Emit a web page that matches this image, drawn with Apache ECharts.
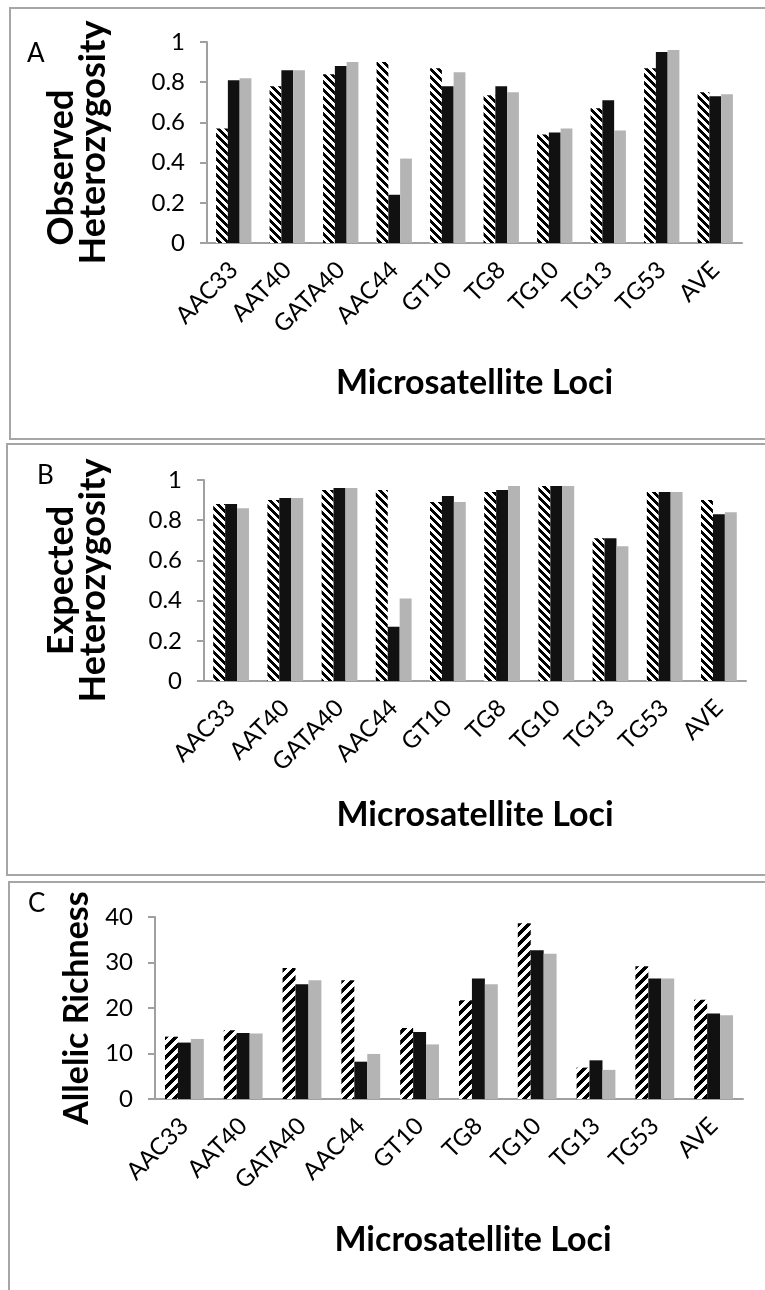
<!DOCTYPE html>
<html><head><meta charset="utf-8">
<script src="https://cdn.jsdelivr.net/npm/echarts@6/dist/echarts.min.js"></script>
<style>html,body{margin:0;padding:0;background:#fff}#c{width:765px;height:1290px}</style>
</head><body><div id="c"></div>
<script>
const categories = ['AAC33','AAT40','GATA40','AAC44','GT10','TG8','TG10','TG13','TG53','AVE'];
const obsHatched = [0.57,0.78,0.84,0.90,0.87,0.735,0.54,0.67,0.87,0.75];
const obsBlack   = [0.81,0.86,0.88,0.24,0.78,0.78,0.55,0.71,0.95,0.73];
const obsGray    = [0.82,0.86,0.90,0.42,0.85,0.75,0.57,0.56,0.96,0.74];
const expHatched = [0.88,0.90,0.95,0.95,0.89,0.94,0.97,0.71,0.94,0.90];
const expBlack   = [0.88,0.91,0.96,0.27,0.92,0.95,0.97,0.71,0.94,0.83];
const expGray    = [0.86,0.91,0.96,0.41,0.89,0.97,0.97,0.67,0.94,0.84];
const arHatched  = [13.7,15.1,28.8,26.1,15.6,21.7,38.6,6.9,29.2,21.8];
const arBlack    = [12.4,14.5,25.2,8.2,14.7,26.5,32.7,8.5,26.5,18.8];
const arGray     = [13.2,14.4,26.1,9.9,12.0,25.2,31.9,6.4,26.5,18.4];
const panelLabels = ['A','B','C'];
const yTitles = ['{s|Observed}\n{t|Heterozygosity}','{t|Expected}\n{t|Heterozygosity}','{t|Allelic Richness}'];
const xTitle = 'Microsatellite Loci';

function hatch(size, dir){
  const c = document.createElement('canvas'); c.width = size; c.height = size;
  const ctx = c.getContext('2d'); const img = ctx.createImageData(size, size);
  for (let y = 0; y < size; y++) for (let x = 0; x < size; x++) {
    const k = dir > 0 ? (x + y) % size : ((x - y) % size + size) % size;
    const v = k < size / 2 ? 0 : 255; const i = (y * size + x) * 4;
    img.data[i] = v; img.data[i+1] = v; img.data[i+2] = v; img.data[i+3] = 255;
  }
  ctx.putImageData(img, 0, 0);
  return { image: c, repeat: 'repeat' };
}
const hatchBack = hatch(8, -1), hatchFwd = hatch(10, 1);
const FONT = 'Lato';
const axisCol = '#a0a0a0';
const grids = [
  {left:207, top:42, width:535, height:201},
  {left:204, top:480, width:542, height:201},
  {left:155, top:917, width:588, height:182}
];
const yCfg = [
  {max:1, interval:0.2, gap:98, fs:36},
  {max:1, interval:0.2, gap:95, fs:36},
  {max:40, interval:10, gap:60, fs:34}
];
const xGaps = [123, 117, 124];
const xTitlePad = [0, 0, 48];
const data = [[obsHatched,obsBlack,obsGray],[expHatched,expBlack,expGray],[arHatched,arBlack,arGray]];
const pats = [hatchBack, hatchBack, hatchFwd];

const xAxis = [], yAxis = [], series = [];
grids.forEach((g, i) => {
  const fs = yCfg[i].fs;
  const base = {fontSize:fs, fontWeight:'bold', color:'#000', fontFamily:FONT, lineHeight:32};
  xAxis.push({type:'category', gridIndex:i, data:categories,
    axisLine:{lineStyle:{color:axisCol, width:2}}, axisTick:{show:false},
    axisLabel:{rotate:45, fontSize:24, color:'#000', fontFamily:FONT, margin:23, interval:0},
    name:xTitle, nameLocation:'middle', nameGap:xGaps[i],
    nameTextStyle:{fontSize:34, fontWeight:'bold', color:'#000', fontFamily:FONT, padding:[0,0,0,xTitlePad[i]]}});
  yAxis.push({type:'value', gridIndex:i, min:0, max:yCfg[i].max, interval:yCfg[i].interval,
    splitLine:{show:false},
    axisLine:{show:true, lineStyle:{color:axisCol, width:2}},
    axisTick:{show:true, length:7, lineStyle:{color:axisCol, width:2}},
    axisLabel:{fontSize:24, color:'#000', fontFamily:FONT, margin:22},
    name:yTitles[i], nameLocation:'middle', nameGap:yCfg[i].gap, nameRotate:90,
    nameTextStyle:Object.assign({}, base, {rich:{
      t:Object.assign({}, base),
      s:Object.assign({}, base, {padding:[0,50,0,0]})
    }})});
  const cols = [pats[i], '#111111', '#b4b4b4'];
  data[i].forEach((arr, j) => {
    series.push({type:'bar', xAxisIndex:i, yAxisIndex:i, data:arr,
      barGap:'0%', barCategoryGap:'34%', silent:true,
      itemStyle:{color:cols[j]}});
  });
});

const graphic = [
  {type:'rect', shape:{x:10, y:8, width:770, height:431}, style:{fill:'none', stroke:'#a6a6a6', lineWidth:2}},
  {type:'rect', shape:{x:7, y:444, width:770, height:431}, style:{fill:'none', stroke:'#a6a6a6', lineWidth:2}},
  {type:'rect', shape:{x:9, y:882, width:770, height:430}, style:{fill:'none', stroke:'#a6a6a6', lineWidth:2}},
  {type:'text', x:27, y:41, style:{text:panelLabels[0], fontSize:26, fontFamily:FONT, fill:'#000'}},
  {type:'text', x:37, y:463, style:{text:panelLabels[1], fontSize:26, fontFamily:FONT, fill:'#000'}},
  {type:'text', x:28, y:891, style:{text:panelLabels[2], fontSize:26, fontFamily:FONT, fill:'#000'}}
];

const chart = echarts.init(document.getElementById('c'), null, {renderer:'canvas'});
chart.setOption({animation:false, backgroundColor:'#fff', grid:grids, xAxis, yAxis, series, graphic});
</script></body></html>
